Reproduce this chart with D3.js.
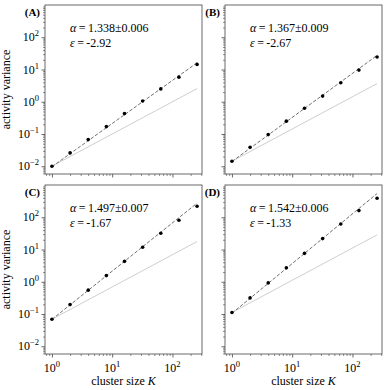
<!DOCTYPE html>
<html>
<head>
<meta charset="utf-8">
<script src="https://cdn.jsdelivr.net/npm/d3@7/dist/d3.min.js"></script>
<style>
  body { margin: 0; background: #fff; }
  svg { display: block; font-family: "Liberation Serif", "DejaVu Serif", serif; }
</style>
</head>
<body>
<svg id="chart" width="390" height="390"></svg>
<script>
// cluster sizes K (shared by all panels)
var clusterSizes = [1, 2, 4, 8, 16, 32, 64, 128, 256];

// measured activity variance per panel
var varianceA = [0.0100, 0.026, 0.067, 0.17, 0.43, 1.05, 2.5, 5.8, 14.4];
var varianceB = [0.0143, 0.039, 0.096, 0.25, 0.63, 1.5, 3.9, 9.6, 24.3];
var varianceC = [0.069, 0.196, 0.55, 1.55, 4.3, 11.8, 31.8, 81, 219];
var varianceD = [0.111, 0.316, 0.92, 2.7, 7.6, 21.8, 62, 161, 390];

// fit results: exponent, error, epsilon, prefactor
var panelLabels = ["(A)", "(B)", "(C)", "(D)"];
var alphas = ["1.338", "1.367", "1.497", "1.542"];
var alphaErrors = ["0.006", "0.009", "0.007", "0.006"];
var epsilons = ["-2.92", "-2.67", "-1.67", "-1.33"];
var alphaValues = [1.338, 1.367, 1.497, 1.542];
var fitPrefactors = [0.0097, 0.0140, 0.068, 0.105];

var xTickValues = [1, 10, 100];
var yTickValues = [0.01, 0.1, 1, 10, 100];

var svg = d3.select("#chart");

var panels = [
    {x0: 45, y0: 5, data: varianceA, showY: true, showX: false},
    {x0: 225, y0: 5, data: varianceB, showY: false, showX: false},
    {x0: 45, y0: 185, data: varianceC, showY: true, showX: true},
    {x0: 225, y0: 185, data: varianceD, showY: false, showX: true}
];
var panelW = 157, panelH = 169;

var supNames = {"-2": "\u22122", "-1": "\u22121", "0": "0", "1": "1", "2": "2"};

function powLabel(sel, v) {
    var e = Math.round(Math.log10(v));
    sel.text("10");
    sel.append("tspan").attr("dy", -5).attr("font-size", 8.5).text(supNames[e]);
}

panels.forEach(function (p, i) {
    var g = svg.append("g").attr("transform", "translate(" + p.x0 + "," + p.y0 + ")");

    var x = d3.scaleLog().domain([Math.pow(10, -0.115), Math.pow(10, 2.49)]).range([0, panelW]);
    var y = d3.scaleLog().domain([Math.pow(10, -2.24), Math.pow(10, 3.0)]).range([panelH, 0]);

    // y axis ticks (major + minor), outward
    var yAxis = d3.axisLeft(y).tickValues(yTickValues).tickSize(3.5).tickFormat("");
    var yMinor = [];
    for (var d = -3; d <= 3; d++) {
        for (var m = 2; m <= 9; m++) {
            var v = m * Math.pow(10, d);
            if (v > y.domain()[0] && v < y.domain()[1]) yMinor.push(v);
        }
    }
    g.append("g").call(d3.axisLeft(y).tickValues(yMinor).tickSize(2).tickFormat(""))
        .call(function (s) { s.select(".domain").remove(); s.selectAll("line").attr("stroke", "#444").attr("stroke-width", 0.6); });
    var ya = g.append("g").call(yAxis);
    ya.select(".domain").remove();
    ya.selectAll("line").attr("stroke", "#444").attr("stroke-width", 0.8);

    var xMinor = [];
    for (var dx = -1; dx <= 2; dx++) {
        for (var mx = 2; mx <= 9; mx++) {
            var vx = mx * Math.pow(10, dx);
            if (vx > x.domain()[0] && vx < x.domain()[1]) xMinor.push(vx);
        }
    }
    g.append("g").attr("transform", "translate(0," + panelH + ")")
        .call(d3.axisBottom(x).tickValues(xMinor).tickSize(2).tickFormat(""))
        .call(function (s) { s.select(".domain").remove(); s.selectAll("line").attr("stroke", "#444").attr("stroke-width", 0.6); });
    var xa = g.append("g").attr("transform", "translate(0," + panelH + ")")
        .call(d3.axisBottom(x).tickValues(xTickValues).tickSize(3.5).tickFormat(""));
    xa.select(".domain").remove();
    xa.selectAll("line").attr("stroke", "#444").attr("stroke-width", 0.8);

    if (p.showY) {
        yTickValues.forEach(function (v) {
            var t = g.append("text").attr("x", -6).attr("y", y(v) + 4)
                .attr("text-anchor", "end").attr("font-size", 12);
            powLabel(t, v);
        });
        g.append("text")
            .attr("transform", "translate(-35," + (panelH / 2) + ") rotate(-90)")
            .attr("text-anchor", "middle").attr("font-size", 12)
            .text("activity variance");
    }
    if (p.showX) {
        xTickValues.forEach(function (v) {
            var t = g.append("text").attr("x", x(v)).attr("y", panelH + 18)
                .attr("text-anchor", "middle").attr("font-size", 12);
            powLabel(t, v);
        });
        var xl = g.append("text").attr("x", panelW / 2).attr("y", panelH + 31)
            .attr("text-anchor", "middle").attr("font-size", 12).text("cluster size ");
        xl.append("tspan").attr("font-style", "italic").text("K");
    }

    // frame
    g.append("rect").attr("width", panelW).attr("height", panelH)
        .attr("fill", "none").attr("stroke", "#444").attr("stroke-width", 0.8);

    var clip = "clip" + i;
    g.append("clipPath").attr("id", clip).append("rect").attr("width", panelW).attr("height", panelH);
    var plot = g.append("g").attr("clip-path", "url(#" + clip + ")");

    // slope-one reference line from the first point
    var y0v = p.data[0];
    var line = d3.line().x(function (k) { return x(k); });
    plot.append("path")
        .datum([clusterSizes[0], clusterSizes[clusterSizes.length - 1]])
        .attr("d", line.y(function (k) { return y(y0v * k); }))
        .attr("stroke", "#cfcfcf").attr("stroke-width", 1).attr("fill", "none");

    // power-law fit
    var a = alphaValues[i], c = fitPrefactors[i];
    plot.append("path")
        .datum([clusterSizes[0], clusterSizes[clusterSizes.length - 1]])
        .attr("d", d3.line().x(function (k) { return x(k); }).y(function (k) { return y(c * Math.pow(k, a)); }))
        .attr("stroke", "#707070").attr("stroke-width", 1).attr("stroke-dasharray", "3.5,1.8").attr("fill", "none");

    plot.selectAll("circle.pt").data(p.data).enter().append("circle").attr("class", "pt")
        .attr("cx", function (d, j) { return x(clusterSizes[j]); })
        .attr("cy", function (d) { return y(d); })
        .attr("r", 1.8).attr("fill", "#000");

    // annotations
    var t1 = g.append("text").attr("x", 25).attr("y", 27).attr("font-size", 12);
    t1.append("tspan").attr("font-style", "italic").text("\u03b1");
    t1.append("tspan").text("\u2009=\u2009" + alphas[i] + "\u00b1" + alphaErrors[i]);
    var t2 = g.append("text").attr("x", 25).attr("y", 42).attr("font-size", 12);
    t2.append("tspan").attr("font-style", "italic").text("\u03b5");
    t2.append("tspan").text("\u2009=\u2009" + epsilons[i]);

    g.append("text").attr("x", -5).attr("y", 11).attr("text-anchor", "end")
        .attr("font-size", 11).attr("font-weight", "bold").text(panelLabels[i]);
});
</script>
</body>
</html>
